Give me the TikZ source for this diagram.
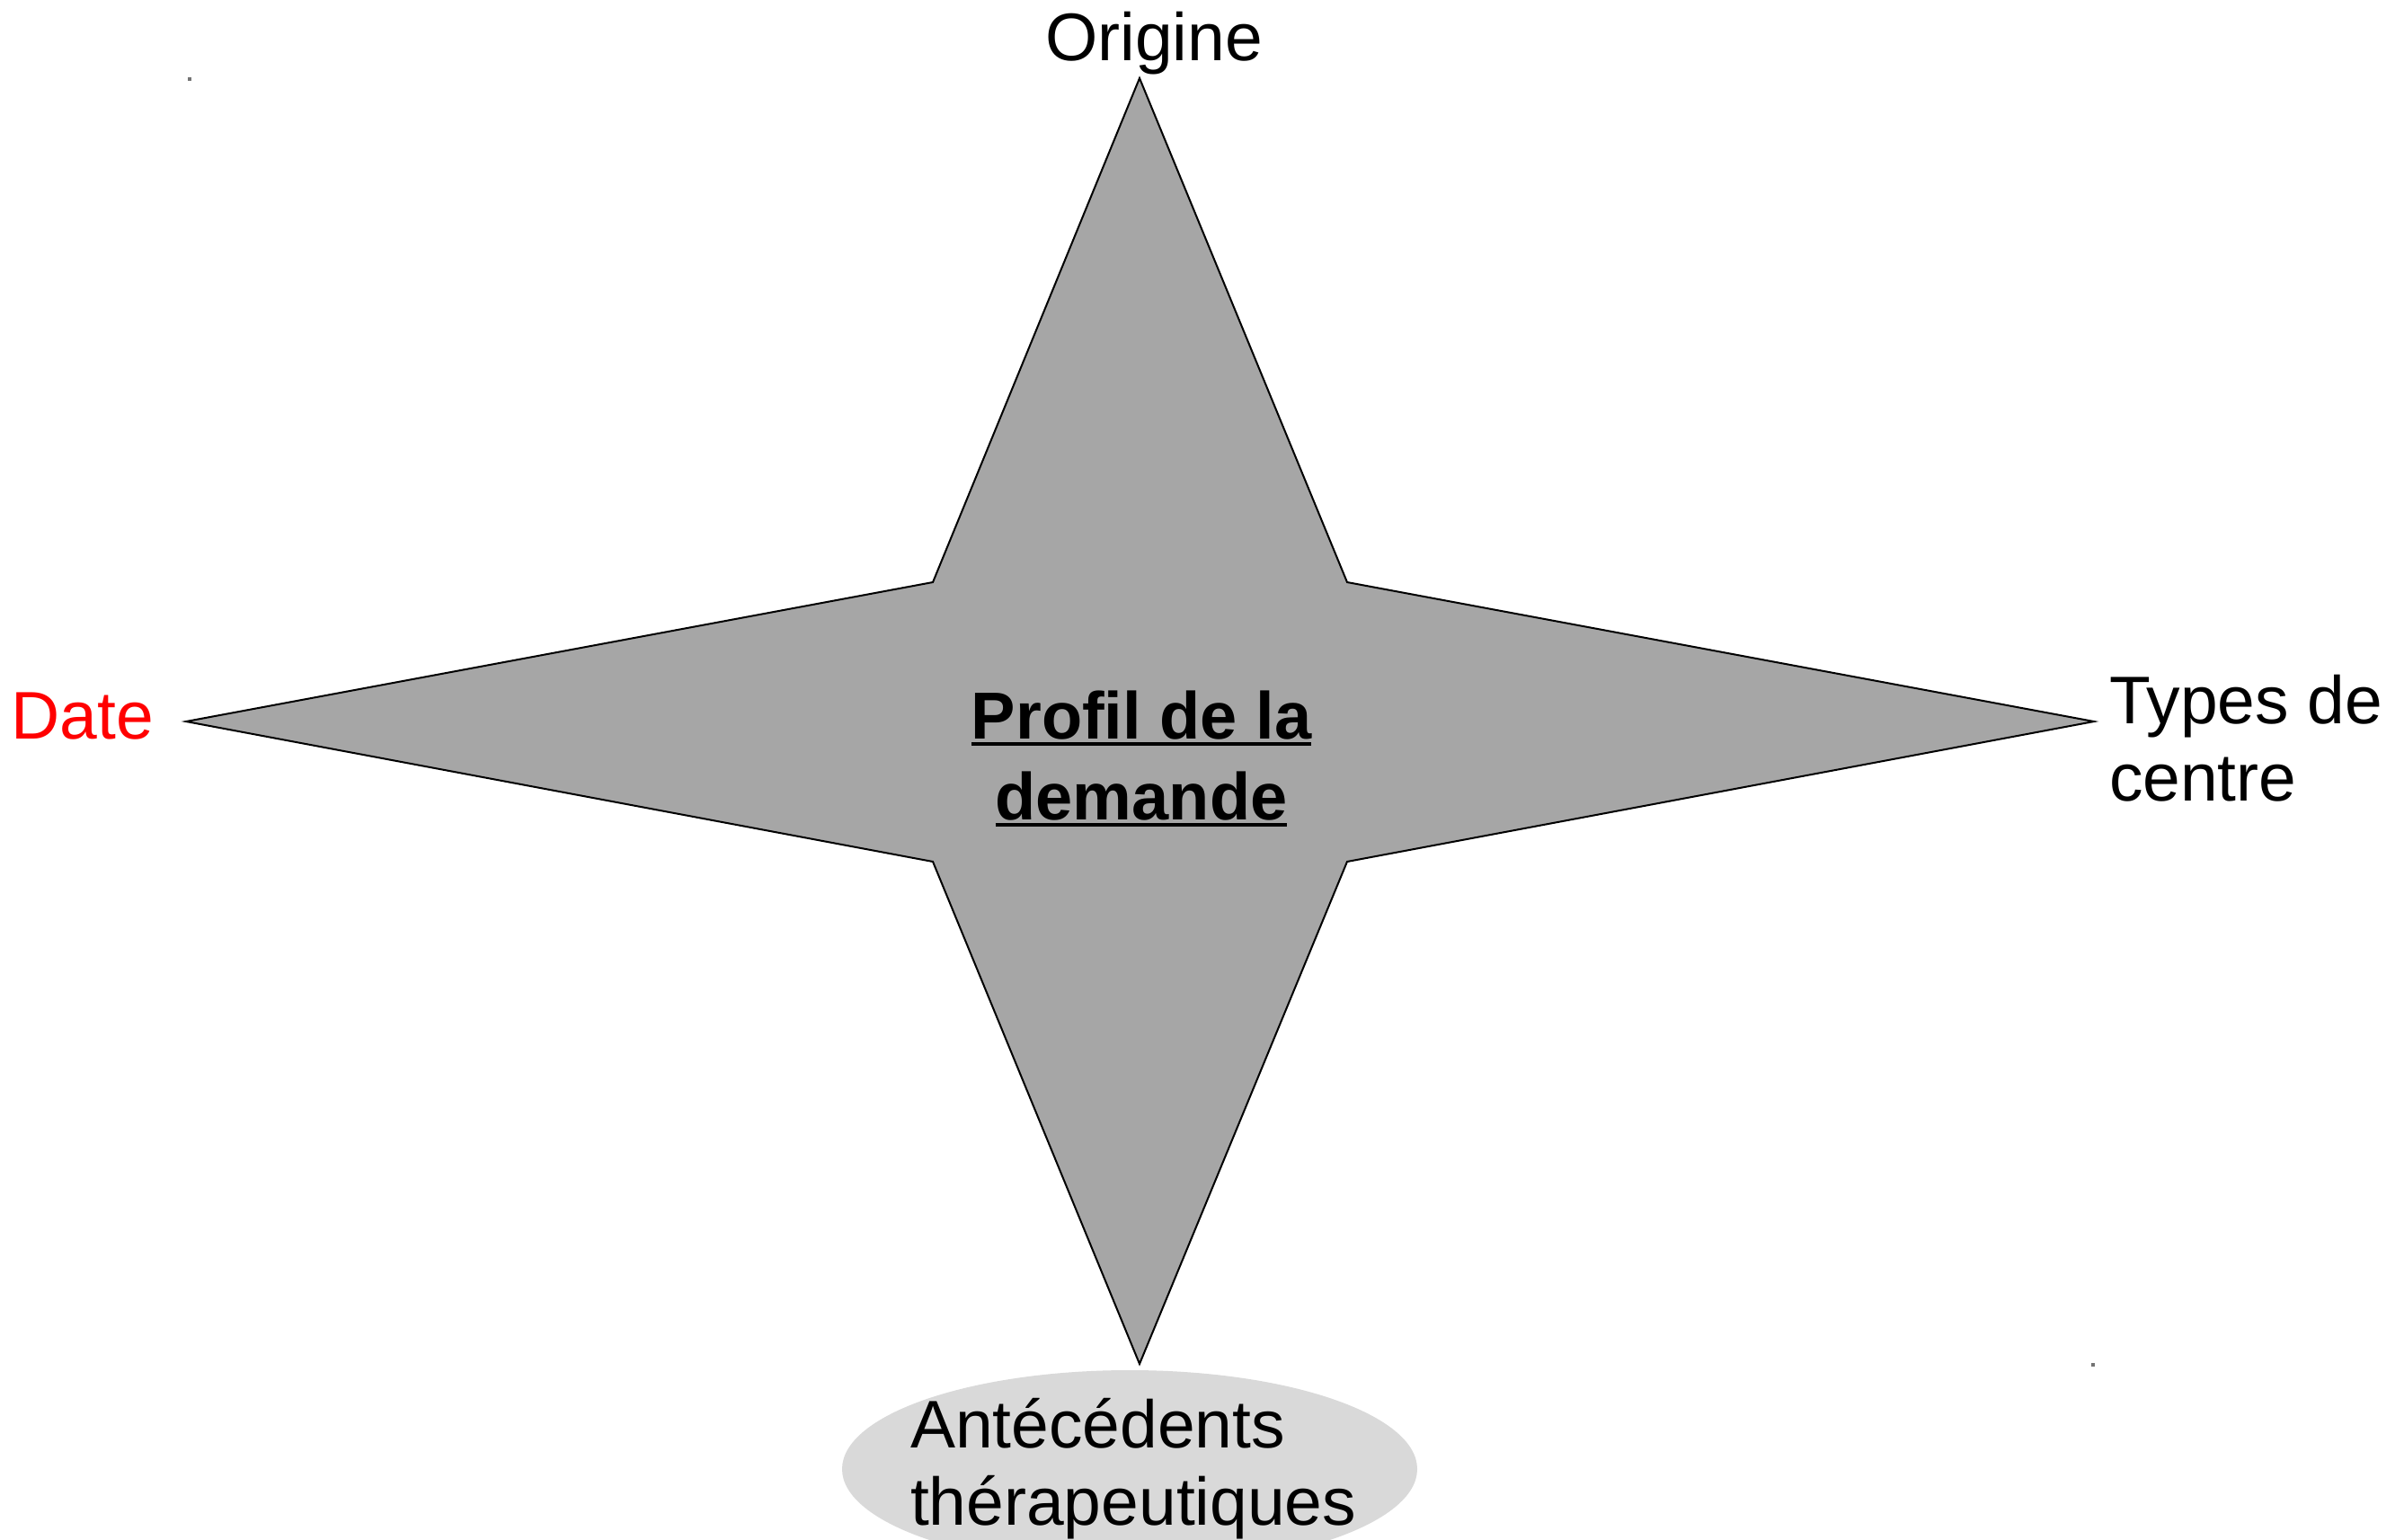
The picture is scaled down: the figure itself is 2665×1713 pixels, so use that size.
\documentclass[tikz,border=0pt]{standalone}
\usepackage{fontspec}
\setmainfont{Liberation Sans}
\definecolor{starfill}{HTML}{A6A6A6}
\definecolor{ellfill}{HTML}{D9D9D9}
\definecolor{datered}{HTML}{FF0000}
\begin{document}
\begin{tikzpicture}[x=0.5pt,y=-0.5pt,
  lbl/.style={inner sep=0pt, outer sep=0pt, font=\fontsize{37.5}{42}\selectfont},
  blbl/.style={inner sep=0pt, outer sep=0pt, anchor=base, font=\fontsize{37}{42}\selectfont\bfseries},
  uline/.style={line width=2pt},
  startshape/.style={fill=starfill, draw=black, line width=1pt, line join=miter},
  handle/.style={fill=black!55}]
\useasboundingbox (0,0) rectangle (2665,1713);
\clip (0,0) rectangle (2665,1713);
% star
\coordinate (T) at (1268,87);
\coordinate (NE) at (1499,648);
\coordinate (R) at (2330,803);
\coordinate (SE) at (1499,959);
\coordinate (B) at (1268,1518);
\coordinate (SW) at (1038,959);
\coordinate (L) at (207,803);
\coordinate (NW) at (1038,648);
\draw[startshape] (T) -- (NE) -- (R) -- (SE) -- (B) -- (SW) -- (L) -- (NW) -- cycle;
% tiny handles
\fill[handle] (209,86) rectangle (213,90);
\fill[handle] (2327,1517) rectangle (2331,1521);
% ellipse
\fill[ellfill] (1257,1635) ellipse [x radius=160pt, y radius=55pt];
% labels
\node[lbl, anchor=base] (origine) at (1284,67) {Origine};
\node[lbl, anchor=base, text=datered] (date) at (92,822) {Date};
\node[lbl, anchor=base west] (types1) at (2347,805) {Types de};
\node[lbl, anchor=base west] (types2) at (2347,891) {centre};
\node[lbl, anchor=base west] (ant1) at (1013,1611) {Antécédents};
\node[lbl, anchor=base west] (ant2) at (1013,1697) {thérapeutiques};
% center title
\node[blbl] (p1) at (1270,822) {Profil de la};
\node[blbl] (p2) at (1270,912) {demande};
\draw[uline] ([yshift=-3pt]p1.base west) -- ([yshift=-3pt]p1.base east);
\draw[uline] ([yshift=-3pt]p2.base west) -- ([yshift=-3pt]p2.base east);
\end{tikzpicture}
\end{document}
